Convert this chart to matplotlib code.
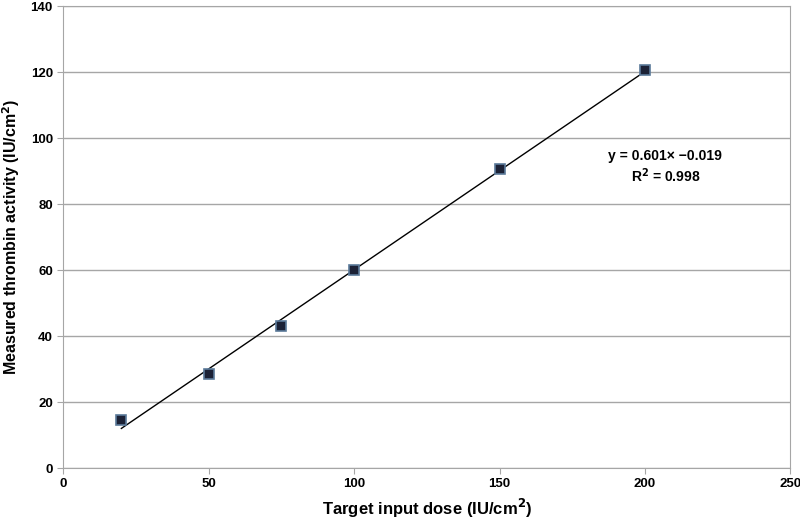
import numpy as np
import matplotlib
matplotlib.use("Agg")
import matplotlib.pyplot as plt

plt.rcParams['font.family'] = ['Liberation Sans', 'DejaVu Sans']
plt.rcParams['font.weight'] = 'bold'

# data
dose = [20, 50, 75, 100, 150, 200]
activity = [14.5, 28.5, 43, 60, 90.5, 120.5]
slope = 0.601
intercept = -0.019
r2 = 0.998

fig = plt.figure(figsize=(8, 5.22), dpi=100)
ax = fig.add_axes([0.079, 0.1034, 0.909, 0.885])

ax.set_xlim(0, 250)
ax.set_ylim(0, 140)
ax.set_xticks(np.arange(0, 251, 50))
ax.set_yticks(np.arange(0, 141, 20))
ax.yaxis.grid(True, color='#a6a6a6', lw=1)
ax.set_axisbelow(True)

for s in ax.spines.values():
    s.set_color('#a6a6a6')
ax.tick_params(colors='#a6a6a6', labelcolor='black', labelsize=9.5, length=4)

# trend line over data range
xl = np.array([min(dose), max(dose)])
ax.plot(xl, slope * xl + intercept, color='black', lw=1)

ax.plot(dose, activity, ls='none', marker='s', ms=7,
        mfc='#1c2236', mec='#5b7a9a', mew=1.2, zorder=3)

ax.text(207, 94.5, "y = 0.601\u00d7 \u22120.019", ha='center', va='center', fontsize=10, fontweight='bold')
ax.text(207, 88.5, "R$^\\mathbf{2}$ = 0.998", ha='center', va='center', fontsize=10, fontweight='bold')

ax.set_xlabel("Target input dose (IU/cm$^\\mathbf{2}$)", fontsize=12, fontweight='bold', labelpad=5)
ax.set_ylabel("Measured thrombin activity (IU/cm$^\\mathbf{2}$)", fontsize=11.5, fontweight='bold', labelpad=6)

fig.savefig("out.png", dpi=100)
